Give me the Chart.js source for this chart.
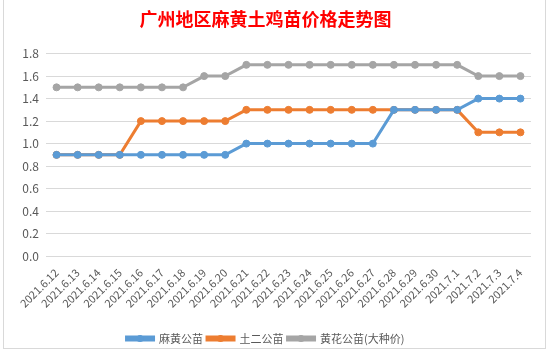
<!DOCTYPE html>
<html>
<head>
<meta charset="utf-8">
<script src="https://cdn.jsdelivr.net/npm/chart.js@4/dist/chart.umd.min.js"></script>
<style>
  html, body { margin: 0; padding: 0; background: #ffffff; }
  body { width: 549px; height: 356px; position: relative; overflow: hidden; }
  #frame { position: absolute; left: 3px; top: -1px; width: 543px; height: 350px; border: 1px solid #d9d9d9; box-sizing: border-box; pointer-events: none; }
  canvas { display: block; position: absolute; left: 0; top: 0; }
</style>
</head>
<body>
<canvas id="c" width="549" height="356"></canvas>
<div id="frame"></div>
<script>
const categories = ["2021.6.12","2021.6.13","2021.6.14","2021.6.15","2021.6.16","2021.6.17","2021.6.18","2021.6.19","2021.6.20","2021.6.21","2021.6.22","2021.6.23","2021.6.24","2021.6.25","2021.6.26","2021.6.27","2021.6.28","2021.6.29","2021.6.30","2021.7.1","2021.7.2","2021.7.3","2021.7.4"];
const mahuang = [0.9,0.9,0.9,0.9,0.9,0.9,0.9,0.9,0.9,1.0,1.0,1.0,1.0,1.0,1.0,1.0,1.3,1.3,1.3,1.3,1.4,1.4,1.4];
const tuer    = [0.9,0.9,0.9,0.9,1.2,1.2,1.2,1.2,1.2,1.3,1.3,1.3,1.3,1.3,1.3,1.3,1.3,1.3,1.3,1.3,1.1,1.1,1.1];
const huanghua= [1.5,1.5,1.5,1.5,1.5,1.5,1.5,1.6,1.6,1.7,1.7,1.7,1.7,1.7,1.7,1.7,1.7,1.7,1.7,1.7,1.6,1.6,1.6];
const seriesNames = ["麻黄公苗","土二公苗","黄花公苗(大种价)"];
const colors = ["#5B9BD5","#ED7D31","#A5A5A5"];
const titleText = "广州地区麻黄土鸡苗价格走势图";

const FONT = "'Noto Sans CJK SC', 'Noto Sans', sans-serif";

function ds(label, data, color) {
  return {
    label, data,
    borderColor: color, backgroundColor: color,
    borderWidth: 3, pointRadius: 3.5, pointBorderWidth: 1,
    pointBackgroundColor: color, pointBorderColor: color,
    tension: 0
  };
}

const legendDots = {
  id: 'legendDots',
  afterDraw(chart) {
    const lg = chart.legend;
    if (!lg || !lg.legendHitBoxes) return;
    const ctx = chart.ctx;
    const bw = chart.options.plugins.legend.labels.boxWidth;
    lg.legendHitBoxes.forEach((hb, i) => {
      const c = colors[i];
      ctx.save();
      ctx.fillStyle = c;
      ctx.beginPath();
      ctx.arc(hb.left + bw / 2, hb.top + hb.height / 2, 3.5, 0, Math.PI * 2);
      ctx.fill();
      ctx.restore();
    });
  }
};

new Chart(document.getElementById('c'), {
  type: 'line',
  data: {
    labels: categories,
    datasets: [
      ds(seriesNames[0], mahuang, colors[0]),
      ds(seriesNames[1], tuer, colors[1]),
      ds(seriesNames[2], huanghua, colors[2])
    ]
  },
  options: {
    responsive: false,
    animation: false,
    layout: { padding: { left: 0, right: 18, top: 8, bottom: 2 } },
    plugins: {
      title: {
        display: true, text: titleText, color: '#FF0000',
        font: { family: FONT, size: 18, weight: 'bold' },
        padding: { top: 0, bottom: 24 }
      },
      legend: {
        position: 'bottom',
        labels: {
          color: '#595959', font: { family: FONT, size: 11 },
          boxWidth: 27, boxHeight: 3, padding: 4
        }
      },
      tooltip: { enabled: false }
    },
    scales: {
      x: {
        offset: true,
        grid: { display: false },
        border: { display: false },
        afterFit(s) { s.height += 17; },
        ticks: {
          color: '#595959', font: { family: FONT, size: 11 },
          minRotation: 45, maxRotation: 45, autoSkip: false, padding: 2
        }
      },
      y: {
        min: 0, max: 1.8,
        grid: { color: '#d9d9d9', drawTicks: false },
        border: { display: false },
        afterFit(s) { s.width = 46; },
        ticks: {
          stepSize: 0.2, color: '#595959', font: { family: FONT, size: 12 },
          padding: 7,
          callback: v => Number(v).toFixed(1)
        }
      }
    }
  },
  plugins: [legendDots]
});
</script>
</body>
</html>
